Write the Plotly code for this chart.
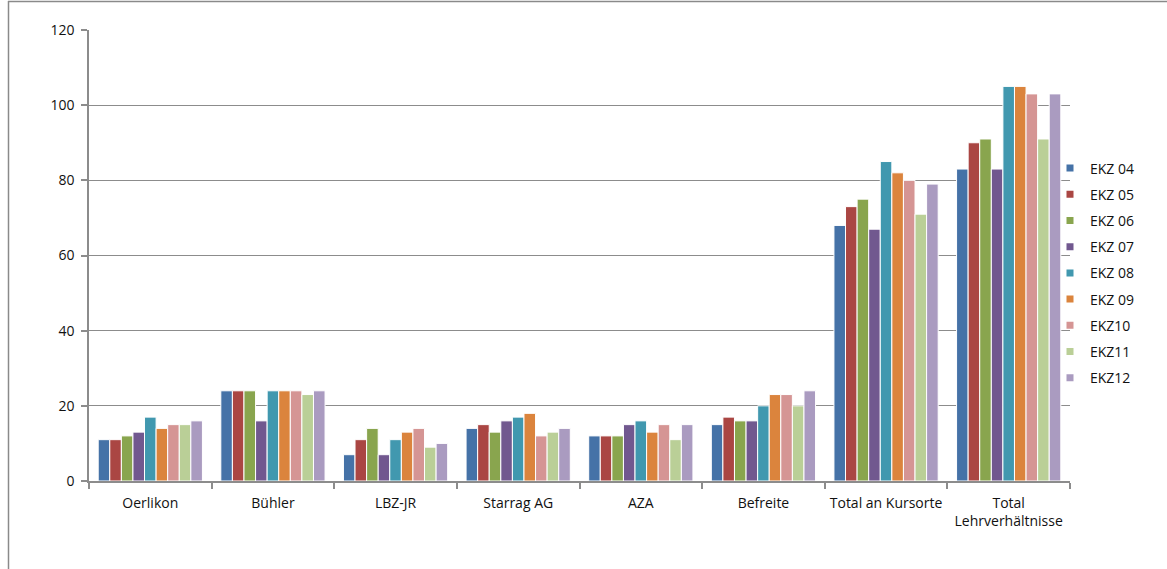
import plotly.graph_objects as go

categories = ["Oerlikon", "Bühler", "LBZ-JR", "Starrag AG", "AZA", "Befreite",
              "Total an Kursorte", "Total<br>Lehrverhältnisse"]
series_names = ["EKZ 04", "EKZ 05", "EKZ 06", "EKZ 07", "EKZ 08", "EKZ 09", "EKZ10", "EKZ11", "EKZ12"]

ekz04 = [11, 24, 7, 14, 12, 15, 68, 83]
ekz05 = [11, 24, 11, 15, 12, 17, 73, 90]
ekz06 = [12, 24, 14, 13, 12, 16, 75, 91]
ekz07 = [13, 16, 7, 16, 15, 16, 67, 83]
ekz08 = [17, 24, 11, 17, 16, 20, 85, 105]
ekz09 = [14, 24, 13, 18, 13, 23, 82, 105]
ekz10 = [15, 24, 14, 12, 15, 23, 80, 103]
ekz11 = [15, 23, 9, 13, 11, 20, 71, 91]
ekz12 = [16, 24, 10, 14, 15, 24, 79, 103]
series_values = [ekz04, ekz05, ekz06, ekz07, ekz08, ekz09, ekz10, ekz11, ekz12]

colors = ["#4572A7", "#AA4643", "#89A54E", "#71588F", "#4198AF",
          "#DB843D", "#D59594", "#BACF97", "#AA9BC0"]

W, H = 1167, 569
L, R, T, B = 89, 1070, 30, 481

fig = go.Figure()
for i, (name, vals) in enumerate(zip(series_names, series_values)):
    fig.add_trace(go.Bar(
        x=categories, y=vals, name=name, legendgroup=name, showlegend=False,
        marker=dict(color=colors[i], line=dict(color="white", width=1)),
    ))
# legend entries: small square markers like the original
for i, name in enumerate(series_names):
    fig.add_trace(go.Scatter(
        x=[None], y=[None], mode="markers", name=name, legendgroup=name,
        marker=dict(symbol="square", size=7, color=colors[i]),
    ))

def px_x(p):
    return (p - L) / (R - L)

def px_y(p):
    return (B - p) / (B - T)

font = "'Open Sans', Lato, sans-serif"
fig.update_layout(
    width=W, height=H,
    margin=dict(l=L, r=W - R, t=T, b=H - B, pad=0),
    barmode="group", bargap=0.15, bargroupgap=0,
    plot_bgcolor="white", paper_bgcolor="white",
    font=dict(family=font, size=14, color="#111111"),
    legend=dict(
        x=px_x(1050), xanchor="left", y=px_y(273), yanchor="middle",
        traceorder="grouped", tracegroupgap=5,
        font=dict(family=font, size=14, color="#111111"),
        itemwidth=30, bgcolor="rgba(0,0,0,0)",
    ),
    xaxis=dict(
        showline=True, linecolor="#8c8c8c", linewidth=1.5,
        ticks="outside", ticklen=6, tickcolor="#8c8c8c", tickwidth=1.5,
        tickson="boundaries", showgrid=False,
        tickfont=dict(family=font, size=14),
        ticklabelstandoff=8,
    ),
    yaxis=dict(
        range=[0, 120], dtick=20, tick0=0,
        showline=True, linecolor="#8c8c8c", linewidth=1.5,
        ticks="outside", ticklen=6, tickcolor="#8c8c8c", tickwidth=1.5,
        showgrid=True, gridcolor="#8c8c8c", gridwidth=1,
        zeroline=False, tickfont=dict(family=font, size=14),
        ticklabelstandoff=4,
    ),
    shapes=[
        dict(type="line", xref="paper", yref="paper",
             x0=px_x(8), x1=px_x(1175), y0=px_y(1.5), y1=px_y(1.5),
             line=dict(color="#8a8a8a", width=1.5)),
        dict(type="line", xref="paper", yref="paper",
             x0=px_x(8.5), x1=px_x(8.5), y0=px_y(1), y1=px_y(580),
             line=dict(color="#8a8a8a", width=1.5)),
    ],
)

fig.write_html("out.html")
